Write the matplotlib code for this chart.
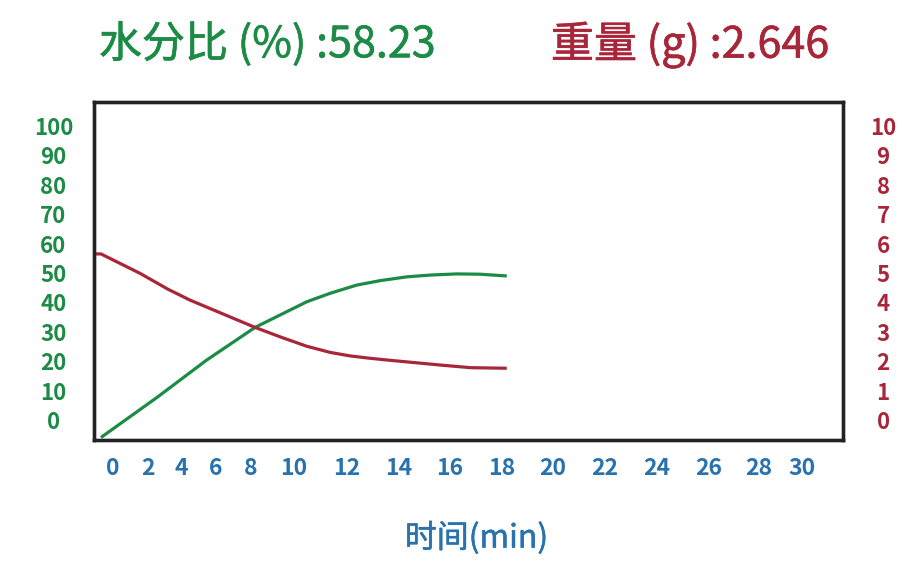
import numpy as np
import matplotlib
matplotlib.use("Agg")
import matplotlib.pyplot as plt
import matplotlib.patheffects as pe

plt.rcParams['font.family'] = ['Noto Sans CJK SC', 'DejaVu Sans']

# time axis ticks (min)
x_ticks = [0, 2, 4, 6, 8, 10, 12, 14, 16, 18, 20, 22, 24, 26, 28, 30]
left_ticks = [0, 10, 20, 30, 40, 50, 60, 70, 80, 90, 100]
right_ticks = [0, 1, 2, 3, 4, 5, 6, 7, 8, 9, 10]

# water ratio (%) vs time
green_t = [-0.67, 2.53, 5.46, 8.19, 10.48, 11.37, 12.39, 13.29, 14.33, 15.24, 16.28, 17.17, 18.2]
green_v = [-5.95, 7.6, 20.4, 31.5, 40.2, 43.1, 45.9, 47.4, 48.7, 49.3, 49.7, 49.6, 49.0]

# weight (g) vs time
red_t = [-1.1, -0.67, 1.56, 3.19, 4.48, 6.23, 8.19, 9.35, 10.48, 11.37, 12.13, 12.9, 13.68, 15.64, 16.81, 18.2]
red_w = [5.65, 5.65, 4.99, 4.45, 4.08, 3.65, 3.15, 2.83, 2.51, 2.30, 2.18, 2.10, 2.03, 1.87, 1.78, 1.76]

ratio_now = 58.23
weight_now = 2.646

GREEN = '#1b8b45'
RED = '#a8263a'
BLUE = '#2872ad'

# the tick labels are not evenly spaced in the original, so the time axis
# uses a piecewise linear scale through these screen positions
tick_pos = np.array([112.7, 147.7, 181.7, 216, 251, 294, 346.7, 398.3, 449.3,
                     501.7, 552.3, 605, 656.7, 708.3, 758.3, 801.7])
t_anchor = np.concatenate([[-20], x_ticks, [50]])
p_anchor = np.concatenate([[tick_pos[0] - 20 * 17.5], tick_pos, [tick_pos[-1] + 20 * 21.7]])


def fwd(x):
    return np.interp(x, t_anchor, p_anchor)


def inv(p):
    return np.interp(p, p_anchor, t_anchor)


def medium(color, w):
    # regular weight thickened a little, the original looks like a medium cut
    return [pe.withStroke(linewidth=w, foreground=color)]


fig = plt.figure(figsize=(9.18, 5.68), dpi=100)
ax = fig.add_axes([0.1027, 0.2254, 0.8151, 0.5956])
ax2 = ax.twinx()

ax.set_xscale('function', functions=(fwd, inv))
ax.set_xlim(inv(94.3), inv(842.5))
ax.set_ylim(-6.8, 108.3)
ax2.set_ylim(-0.68, 10.83)

ax.plot(green_t, green_v, color=GREEN, lw=2.3, solid_joinstyle='round', solid_capstyle='butt')
ax2.plot(red_t, red_w, color=RED, lw=2.3, solid_joinstyle='round', solid_capstyle='butt')

ax.set_xticks(x_ticks)
ax.set_xticklabels([str(v) for v in x_ticks], color=BLUE, fontsize=16.5, fontweight='bold')
ax.set_yticks(left_ticks)
ax.set_yticklabels([str(v) for v in left_ticks], color=GREEN, fontsize=16,
                   fontweight='bold', ha='center')
ax2.set_yticks(right_ticks)
ax2.set_yticklabels([str(v) for v in right_ticks], color=RED, fontsize=16,
                    fontweight='bold', ha='center')

ax.tick_params(axis='x', length=0, pad=12.5)
ax.tick_params(axis='y', length=0, pad=29.4)
ax2.tick_params(axis='y', length=0, pad=29.2)

for a in (ax, ax2):
    for s in a.spines.values():
        s.set_linewidth(2.4)
        s.set_color('#222222')

xl = ax.set_xlabel('时间(min)', color=BLUE, fontsize=23, va='center')
xl.set_path_effects(medium(BLUE, 0.35))
ax.xaxis.set_label_coords(0.511, -0.29)

fig.text(267 / 918, 1 - 45 / 568, '水分比 (%%) :%.2f' % ratio_now, color=GREEN,
         fontsize=31, ha='center', va='center', path_effects=medium(GREEN, 0.45))
fig.text(690 / 918, 1 - 45 / 568, '重量 (g) :%.3f' % weight_now, color=RED,
         fontsize=31, ha='center', va='center', path_effects=medium(RED, 0.45))

fig.savefig('out.png', dpi=100)
